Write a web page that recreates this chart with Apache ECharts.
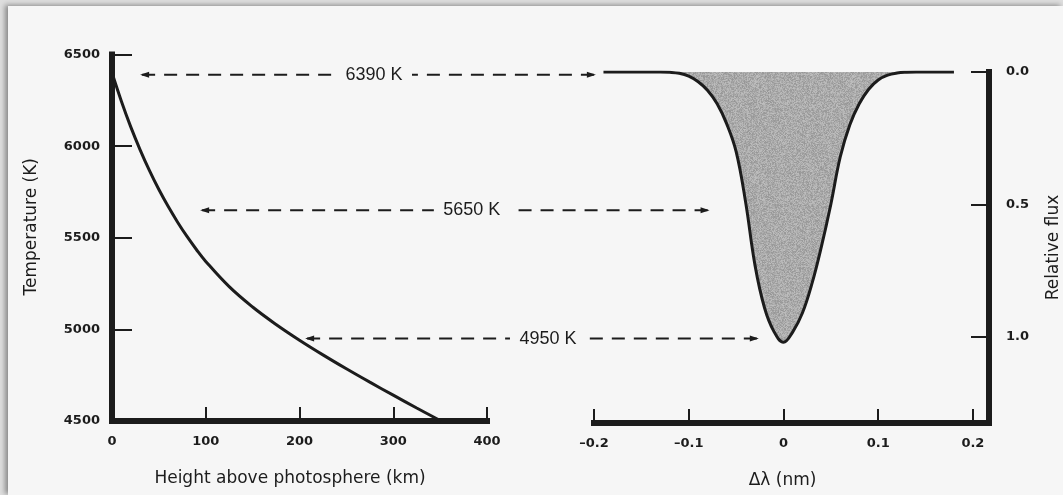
<!DOCTYPE html>
<html>
<head>
<meta charset="utf-8">
<script src="https://cdn.jsdelivr.net/npm/echarts@6/dist/echarts.min.js"></script>
<style>
  html, body { margin: 0; padding: 0; }
  body { width: 1063px; height: 495px; background: #dedede; position: relative; overflow: hidden; }
  #page { position: absolute; left: 8px; top: 6px; right: 0; bottom: 0; background: #f6f6f6;
          box-shadow: -3px -1px 5px rgba(0,0,0,0.38); }
  #chart { position: absolute; left: 0; top: 0; width: 1063px; height: 495px; }
</style>
</head>
<body>
<div id="page"></div>
<div id="chart"></div>
<script>
// Temperature versus height in the solar photosphere
const heightKm     = [0, 10, 20, 30, 40, 50, 60, 70, 80, 90, 100, 125, 150, 175, 200, 225, 250, 275, 300, 325, 351];
const temperatureK = [6400, 6245, 6105, 5980, 5866, 5763, 5670, 5585, 5507, 5436, 5371, 5233, 5122, 5027, 4941, 4861, 4785, 4712, 4641, 4571, 4500];

// Absorption line profile (depth below continuum)
const deltaLambda = [-0.19, -0.18, -0.17, -0.16, -0.15, -0.14, -0.13, -0.12, -0.11, -0.10,
                     -0.09, -0.08, -0.07, -0.06, -0.05, -0.04, -0.03, -0.02, -0.01, 0,
                     0.01, 0.02, 0.03, 0.04, 0.05, 0.06, 0.07, 0.08, 0.09, 0.10,
                     0.11, 0.12, 0.13, 0.14, 0.15, 0.16, 0.17, 0.18];
const relFlux     = [0, 0, 0, 0, 0, 0, 0, 0.001, 0.005, 0.016,
                     0.037, 0.07, 0.12, 0.195, 0.30, 0.49, 0.73, 0.89, 0.98, 1.02,
                     0.98, 0.91, 0.80, 0.66, 0.50, 0.32, 0.20, 0.12, 0.065, 0.03,
                     0.012, 0.004, 0.001, 0, 0, 0, 0, 0];

// Formation temperatures linking the two panels
const linkTemps  = [6390, 5650, 4950];
const linkFromKm = [30, 94, 206];
const linkToNm   = [-0.198, -0.078, -0.026];
const linkLabels = ['6390 K', '5650 K', '4950 K'];

const INK = '#1c1c1c';
const tickFont = { fontFamily: 'DejaVu Sans', fontWeight: 'bold', fontSize: 13, color: INK };
const nameFont = { fontFamily: 'DejaVu Sans', fontSize: 17, color: INK };
const axisLine = { show: true, onZero: false, lineStyle: { color: INK, width: 6, cap: 'square' } };

function onStep(v, step) { return Math.abs(v / step - Math.round(v / step)) < 1e-6; }

// Fine stippled grey used for the absorbed area
function stipple() {
  const size = 96;
  const c = document.createElement('canvas');
  c.width = c.height = size;
  const ctx = c.getContext('2d');
  const img = ctx.createImageData(size, size);
  for (let y = 0; y < size; y++) {
    for (let x = 0; x < size; x++) {
      const h = Math.sin(x * 12.9898 + y * 78.233) * 43758.5453;
      const f = h - Math.floor(h);
      const g = Math.round(150 + f * 40);
      const k = (y * size + x) * 4;
      img.data[k] = img.data[k + 1] = img.data[k + 2] = g;
      img.data[k + 3] = 255;
    }
  }
  ctx.putImageData(img, 0, 0);
  return c;
}

const chart = echarts.init(document.getElementById('chart'), null, { renderer: 'canvas' });

chart.setOption({
  backgroundColor: 'transparent',
  animation: false,
  grid: [
    { left: 112, top: 54.5, width: 375, height: 366.5 },
    { left: 594, top: 72, width: 396, height: 351 }
  ],
  xAxis: [
    {
      gridIndex: 0, type: 'value', min: 0, max: 400, interval: 100,
      axisLine: axisLine,
      axisTick: { inside: true, length: 14, lineStyle: { color: INK, width: 2 } },
      axisLabel: Object.assign({ margin: 14, formatter: v => String(v) }, tickFont),
      splitLine: { show: false },
      name: 'Height above photosphere (km)', nameLocation: 'middle', nameGap: 49,
      nameTextStyle: Object.assign({ padding: [0, 19, 0, 0] }, nameFont)
    },
    {
      gridIndex: 1, type: 'value', min: -0.2, max: 0.217, interval: 0.1,
      axisLine: axisLine,
      axisTick: { inside: true, length: 14, lineStyle: { color: INK, width: 2 } },
      axisLabel: Object.assign({
        margin: 14,
        formatter: v => onStep(v, 0.1) ? (v < -1e-9 ? '\u2013' + Math.abs(v).toFixed(1) : (Math.abs(v) < 1e-9 ? '0' : v.toFixed(1))) : ''
      }, tickFont),
      splitLine: { show: false },
      name: '\u0394\u03bb (nm)', nameLocation: 'middle', nameGap: 49,
      nameTextStyle: Object.assign({ padding: [0, 18, 0, 0] }, nameFont)
    }
  ],
  yAxis: [
    {
      gridIndex: 0, type: 'value', min: 4500, max: 6500, interval: 500,
      axisLine: axisLine,
      axisTick: { inside: true, length: 20, lineStyle: { color: INK, width: 2 } },
      axisLabel: Object.assign({ margin: 12, formatter: v => String(v) }, tickFont),
      splitLine: { show: false },
      name: 'Temperature (K)', nameLocation: 'middle', nameGap: 72,
      nameTextStyle: Object.assign({ padding: [0, 0, 0, 22] }, nameFont)
    },
    {
      gridIndex: 1, type: 'value', position: 'right', inverse: true,
      min: 0, max: 1.325, interval: 0.5,
      axisLine: axisLine,
      axisTick: { inside: true, length: 18, lineStyle: { color: INK, width: 2 } },
      axisLabel: Object.assign({
        margin: 17,
        formatter: v => onStep(v, 0.5) ? v.toFixed(1) : ''
      }, tickFont),
      splitLine: { show: false },
      name: 'Relative flux', nameLocation: 'middle', nameGap: 56,
      nameTextStyle: nameFont
    }
  ],
  series: [
    {
      type: 'line', xAxisIndex: 0, yAxisIndex: 0,
      data: heightKm.map((h, i) => [h, temperatureK[i]]),
      showSymbol: false, smooth: 0.4,
      lineStyle: { color: INK, width: 3 }
    },
    {
      type: 'line', xAxisIndex: 1, yAxisIndex: 1,
      data: deltaLambda.map((d, i) => [d, relFlux[i]]),
      showSymbol: false, smooth: 0.4,
      lineStyle: { color: INK, width: 3 },
      areaStyle: { color: { image: stipple(), repeat: 'repeat' }, opacity: 1, origin: 'start' }
    }
  ]
});

// Dashed double-headed arrows between the temperature curve and the line profile
function arrowHead(tipX, y, dir) {
  const len = 9, half = 3;
  return {
    type: 'polygon', silent: true, z: 10,
    shape: { points: [[tipX, y], [tipX + dir * len, y - half], [tipX + dir * len, y + half]] },
    style: { fill: INK }
  };
}

function buildLinks() {
  const els = [];
  const labelShift = [6, 17, 16];
  linkTemps.forEach((t, i) => {
    const pL = chart.convertToPixel({ xAxisIndex: 0, yAxisIndex: 0 }, [linkFromKm[i], t]);
    const pR = chart.convertToPixel({ xAxisIndex: 1, yAxisIndex: 1 }, [linkToNm[i], 0]);
    const y = pL[1];
    const x1 = pL[0], x2 = pR[0];
    const cx = (x1 + x2) / 2 + labelShift[i];
    const gap = 38;
    const dash = { stroke: INK, lineWidth: 2, lineDash: [13, 9] };
    els.push({ type: 'line', silent: true, z: 10, shape: { x1: x1 + 2, y1: y, x2: cx - gap, y2: y }, style: dash });
    els.push({ type: 'line', silent: true, z: 10, shape: { x1: x2 - 2, y1: y, x2: cx + gap, y2: y }, style: dash });
    els.push(arrowHead(x1, y, 1));
    els.push(arrowHead(x2, y, -1));
    els.push({
      type: 'text', silent: true, z: 10, x: cx, y: y,
      style: { text: linkLabels[i], font: '18px "Liberation Sans"', fill: INK, align: 'center', verticalAlign: 'middle' }
    });
  });
  chart.setOption({ graphic: { elements: els } });
}
buildLinks();
</script>
</body>
</html>
